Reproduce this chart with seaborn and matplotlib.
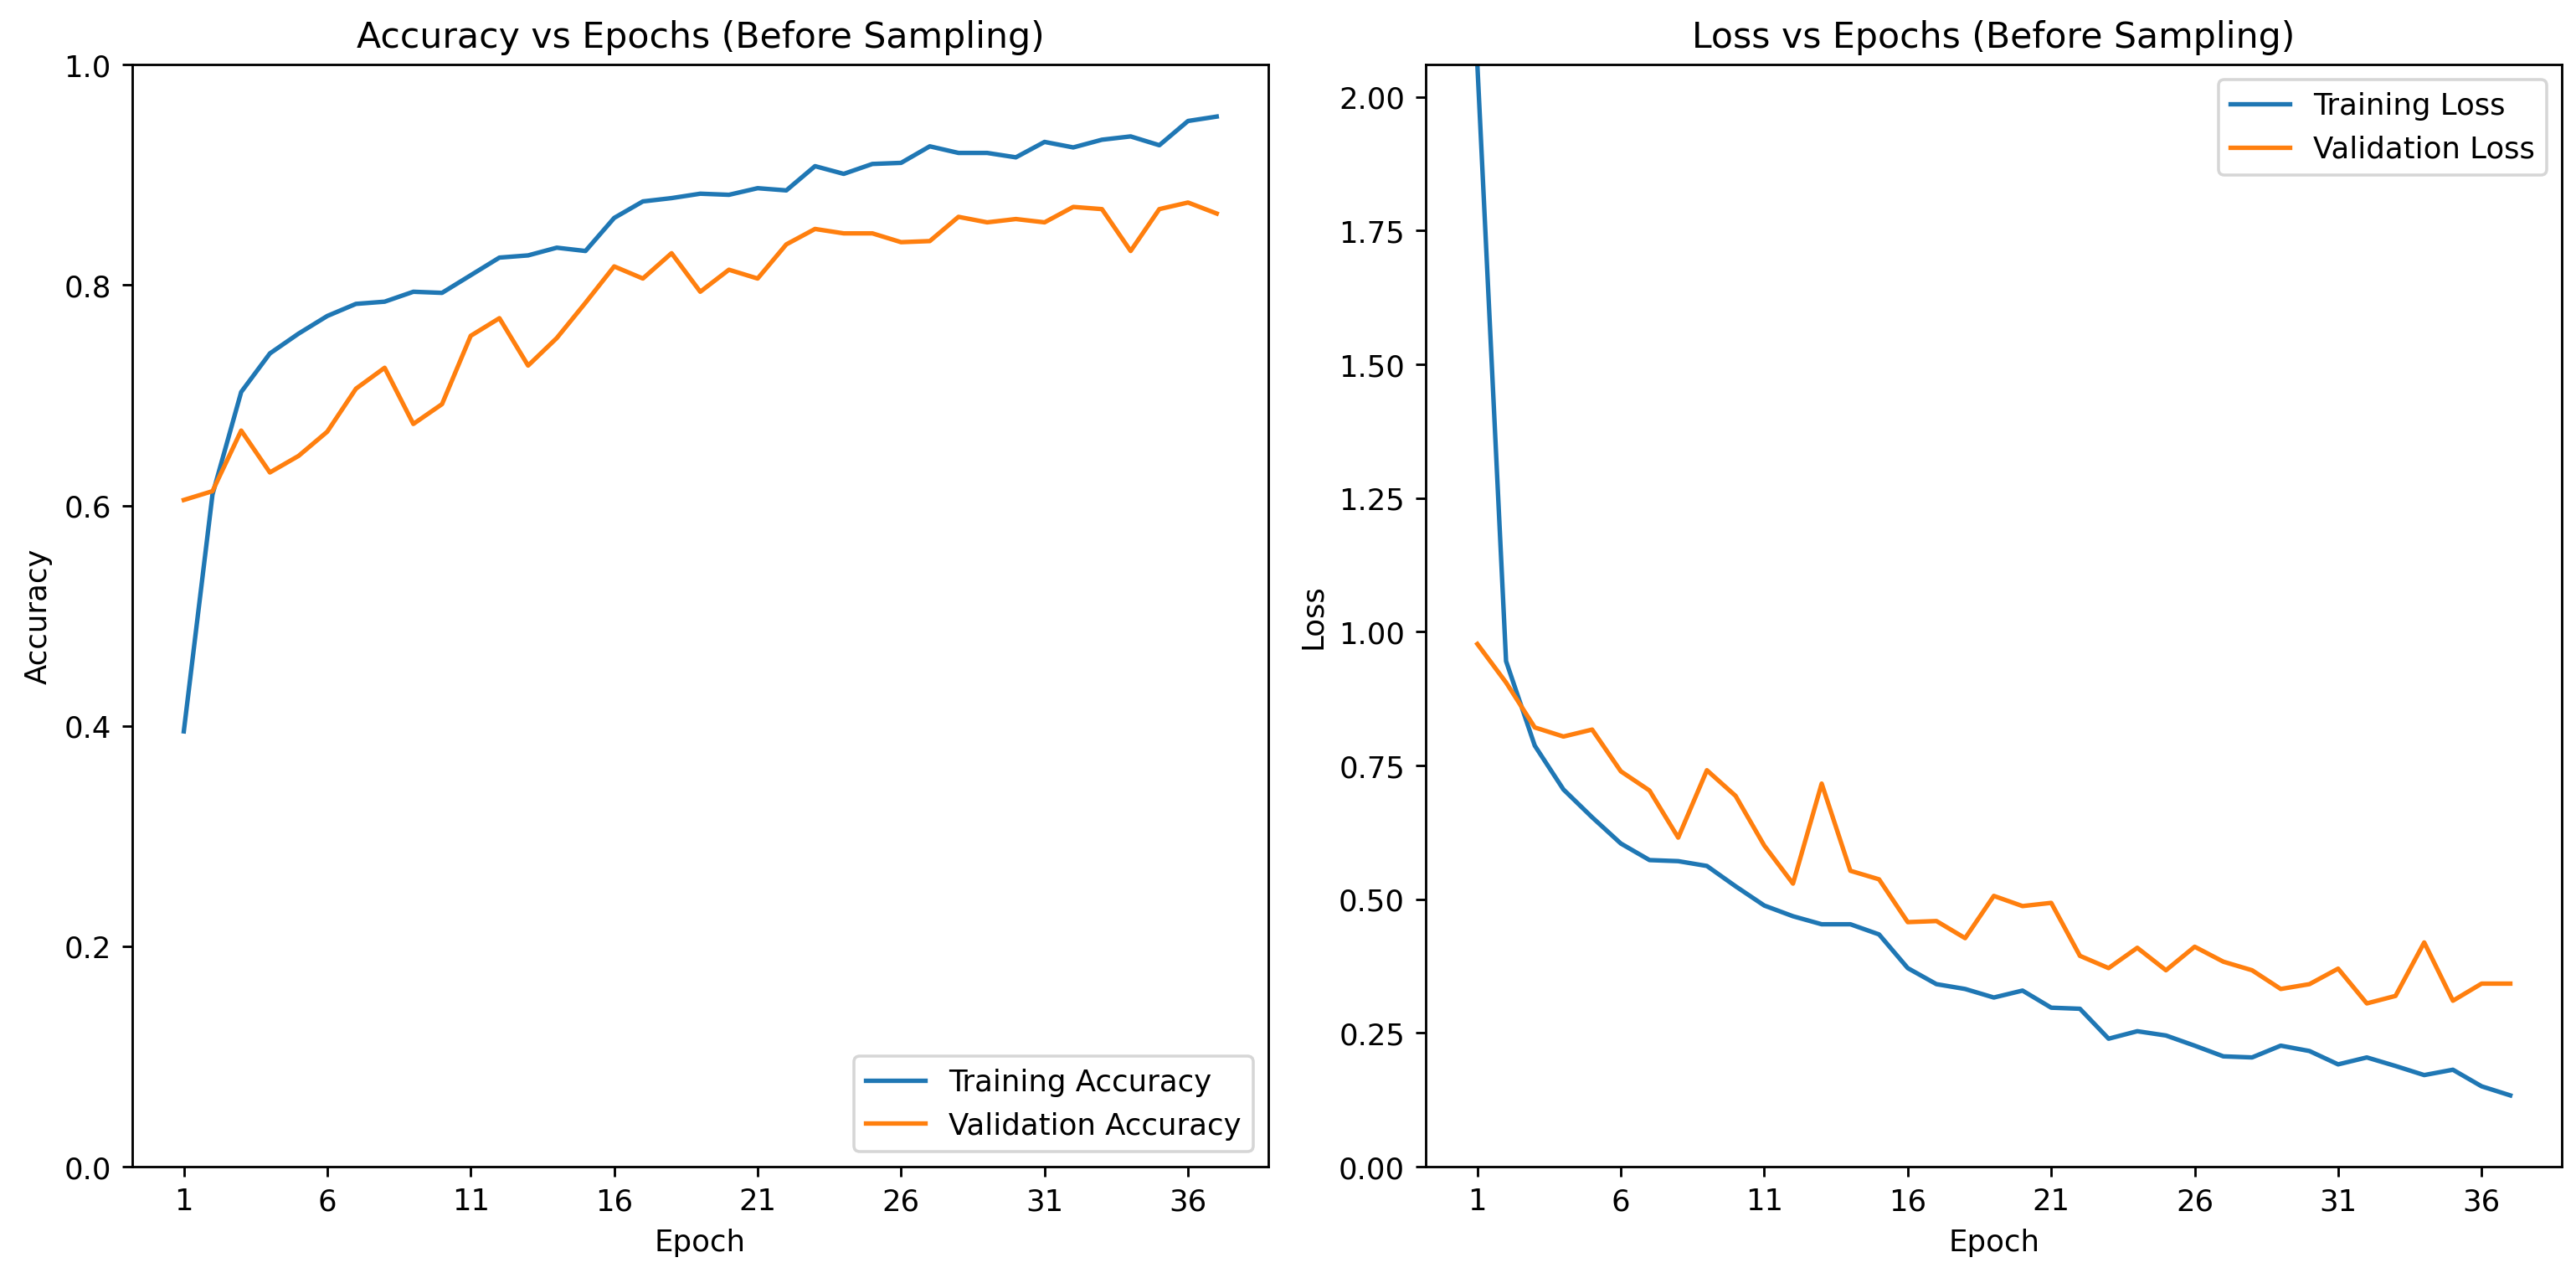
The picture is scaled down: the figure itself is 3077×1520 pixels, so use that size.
import matplotlib
matplotlib.use("Agg")
import matplotlib.pyplot as plt
import seaborn as sns
import numpy as np
import pandas as pd

epochs = list(range(1, 38))

train_acc = [0.395, 0.610, 0.703, 0.738, 0.756, 0.772, 0.783, 0.785, 0.794, 0.793,
             0.809, 0.825, 0.827, 0.834, 0.831, 0.861, 0.876, 0.879, 0.883, 0.882,
             0.888, 0.886, 0.908, 0.901, 0.910, 0.911, 0.926, 0.920, 0.920, 0.916,
             0.930, 0.925, 0.932, 0.935, 0.927, 0.949, 0.953]
val_acc = [0.605, 0.613, 0.668, 0.630, 0.645, 0.667, 0.706, 0.725, 0.674, 0.692,
           0.754, 0.770, 0.727, 0.752, 0.784, 0.817, 0.806, 0.829, 0.794, 0.814,
           0.806, 0.837, 0.851, 0.847, 0.847, 0.839, 0.840, 0.862, 0.857, 0.860,
           0.857, 0.871, 0.869, 0.831, 0.869, 0.875, 0.865]

train_loss = [2.06, 0.945, 0.787, 0.705, 0.653, 0.604, 0.573, 0.571, 0.562, 0.524,
              0.488, 0.468, 0.453, 0.453, 0.434, 0.371, 0.341, 0.332, 0.316, 0.329,
              0.297, 0.295, 0.239, 0.253, 0.245, 0.226, 0.206, 0.204, 0.226, 0.216,
              0.191, 0.204, 0.188, 0.171, 0.181, 0.150, 0.133]
val_loss = [0.977, 0.905, 0.821, 0.804, 0.817, 0.739, 0.703, 0.615, 0.741, 0.693,
            0.600, 0.529, 0.716, 0.553, 0.537, 0.457, 0.459, 0.427, 0.506, 0.487,
            0.493, 0.394, 0.371, 0.409, 0.367, 0.411, 0.383, 0.367, 0.332, 0.341,
            0.370, 0.305, 0.319, 0.419, 0.310, 0.342, 0.342]

xticks = list(range(1, 38, 5))

df = pd.DataFrame({"Epoch": epochs, "train_acc": train_acc, "val_acc": val_acc,
                   "train_loss": train_loss, "val_loss": val_loss})

fig, axes = plt.subplots(1, 2, figsize=(12.02, 5.94), dpi=256)

ax = axes[0]
sns.lineplot(data=df, x="Epoch", y="train_acc", ax=ax, color="tab:blue", label="Training Accuracy")
sns.lineplot(data=df, x="Epoch", y="val_acc", ax=ax, color="tab:orange", label="Validation Accuracy")
ax.set_title("Accuracy vs Epochs (Before Sampling)")
ax.set_xlabel("Epoch")
ax.set_ylabel("Accuracy")
ax.set_ylim(0, 1)
ax.set_xticks(xticks)
ax.legend(loc="lower right")

ax = axes[1]
sns.lineplot(data=df, x="Epoch", y="train_loss", ax=ax, color="tab:blue", label="Training Loss")
sns.lineplot(data=df, x="Epoch", y="val_loss", ax=ax, color="tab:orange", label="Validation Loss")
ax.set_title("Loss vs Epochs (Before Sampling)")
ax.set_xlabel("Epoch")
ax.set_ylabel("Loss")
ax.set_ylim(0, max(train_loss))
ax.set_xticks(xticks)
ax.legend(loc="upper right")

fig.subplots_adjust(left=0.0513, right=0.9945, top=0.9487, bottom=0.0836, wspace=0.1385)
fig.savefig("out.png", dpi=256)
